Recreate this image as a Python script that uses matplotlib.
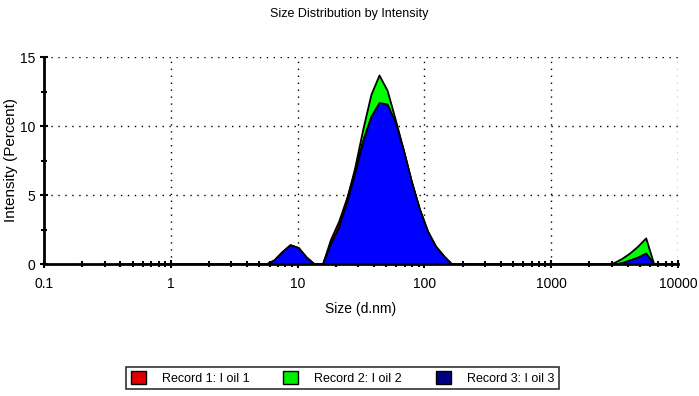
import matplotlib.pyplot as plt
from matplotlib.ticker import FuncFormatter, LogLocator, MultipleLocator
from matplotlib.patches import Patch

plt.rcParams['font.family'] = ['Liberation Sans', 'DejaVu Sans']

# size classes (d.nm) of the instrument, 0.4 - 10000
sizes = [0.4, 0.4632, 0.5365, 0.6213, 0.7195, 0.8332, 0.9649, 1.117, 1.294, 1.499,
         1.736, 2.010, 2.328, 2.696, 3.122, 3.615, 4.187, 4.849, 5.615, 6.503,
         7.531, 8.721, 10.10, 11.70, 13.54, 15.69, 18.17, 21.04, 24.36, 28.21,
         32.67, 37.84, 43.82, 50.75, 58.77, 68.06, 78.82, 91.28, 105.7, 122.4,
         141.8, 164.2, 190.1, 220.2, 255.0, 295.3, 342.0, 396.1, 458.7, 531.2,
         615.1, 712.4, 825.0, 955.4, 1106, 1281, 1484, 1718, 1990, 2305,
         2669, 3091, 3580, 4145, 4801, 5560, 6439, 7456, 8635, 10000]

# intensity (%) per record, 5.615 nm onwards (zeros below)
lead = [0.0] * 18
rec1_tail = [0.0, 0.3, 0.9, 1.4, 1.2, 0.5, 0.0, 0.0, 1.8, 3.1, 4.8, 6.8,
             9.0, 10.7, 11.6, 11.4, 10.2, 8.2, 5.9, 3.9, 2.3, 1.2,
             0.5, 0.0, 0.0, 0.0, 0.0, 0.0, 0.0, 0.0, 0.0, 0.0,
             0.0, 0.0, 0.0, 0.0, 0.0, 0.0, 0.0, 0.0, 0.0, 0.0,
             0.0, 0.0, 0.1, 0.3, 0.5, 0.8, 0.0, 0.0, 0.0, 0.0]
rec2_tail = [0.0, 0.3, 0.9, 1.4, 1.2, 0.5, 0.0, 0.0, 1.5, 2.8, 4.7, 7.0,
             9.8, 12.3, 13.7, 12.6, 10.5, 8.3, 6.0, 4.0, 2.4, 1.3,
             0.6, 0.0, 0.0, 0.0, 0.0, 0.0, 0.0, 0.0, 0.0, 0.0,
             0.0, 0.0, 0.0, 0.0, 0.0, 0.0, 0.0, 0.0, 0.0, 0.0,
             0.0, 0.1, 0.4, 0.8, 1.3, 1.9, 0.0, 0.0, 0.0, 0.0]
rec3_tail = [0.0, 0.3, 0.9, 1.4, 1.2, 0.5, 0.0, 0.0, 1.5, 2.7, 4.5, 6.6,
             8.9, 10.7, 11.7, 11.6, 10.3, 8.3, 6.0, 4.0, 2.4, 1.3,
             0.6, 0.0, 0.0, 0.0, 0.0, 0.0, 0.0, 0.0, 0.0, 0.0,
             0.0, 0.0, 0.0, 0.0, 0.0, 0.0, 0.0, 0.0, 0.0, 0.0,
             0.0, 0.0, 0.1, 0.3, 0.5, 0.8, 0.0, 0.0, 0.0, 0.0]
record1 = lead + rec1_tail
record2 = lead + rec2_tail
record3 = lead + rec3_tail

labels = ['Record 1: I oil 1', 'Record 2: I oil 2', 'Record 3: I oil 3']
fill_colors = ['#ff0000', '#00ff00', '#0000ff']
legend_colors = ['#e00000', '#00ee00', '#000080']

fig = plt.figure(figsize=(6.99, 3.96), dpi=100)
ax = fig.add_axes([0.063, 0.333, 0.907, 0.523])

for data, col, z in [(record2, fill_colors[1], 2), (record1, fill_colors[0], 3),
                     (record3, fill_colors[2], 4)]:
    ax.fill_between(sizes, data, 0, facecolor=col, edgecolor='black',
                    linewidth=1.3, zorder=z)

ax.set_xscale('log')
ax.set_xlim(0.1, 10000)
ax.set_ylim(0, 15)
ax.xaxis.set_major_locator(LogLocator(base=10))
ax.xaxis.set_minor_locator(LogLocator(base=10, subs=range(2, 10)))
ax.xaxis.set_major_formatter(FuncFormatter(lambda v, p: '%g' % v))
ax.yaxis.set_major_locator(MultipleLocator(5))
ax.yaxis.set_minor_locator(MultipleLocator(2.5))

ax.grid(True, which='major', linestyle=(0, (1, 4)), color='black', linewidth=1.0)
ax.set_axisbelow(True)
for s in ['top', 'right']:
    ax.spines[s].set_visible(False)
for s in ['left', 'bottom']:
    ax.spines[s].set_linewidth(2)
    ax.spines[s].set_zorder(6)
ax.tick_params(which='major', direction='inout', length=6, width=1.5, labelsize=10)
ax.tick_params(which='minor', direction='inout', length=4, width=1.5)
ax.tick_params(axis='x', pad=6)

ax.set_xlabel('Size (d.nm)', fontsize=10, labelpad=8)
fig.text(11 / 699, 1 - 160 / 396, 'Intensity (Percent)', rotation=90,
         ha='center', va='center', fontsize=11)
fig.text(0.5, 0.965, 'Size Distribution by Intensity', ha='center', va='center', fontsize=9)

handles = [Patch(facecolor=c, edgecolor='black', linewidth=1) for c in legend_colors]
leg = fig.legend(handles, labels, loc='center', bbox_to_anchor=(0.49, 0.0455), ncol=3,
                 fontsize=9, frameon=True, fancybox=False, edgecolor='black',
                 handlelength=1.2, handleheight=1.2, handletextpad=1.3,
                 columnspacing=2.7, borderpad=0.35, borderaxespad=0)
leg.get_frame().set_linewidth(1.2)

plt.savefig('out.png', dpi=100)
